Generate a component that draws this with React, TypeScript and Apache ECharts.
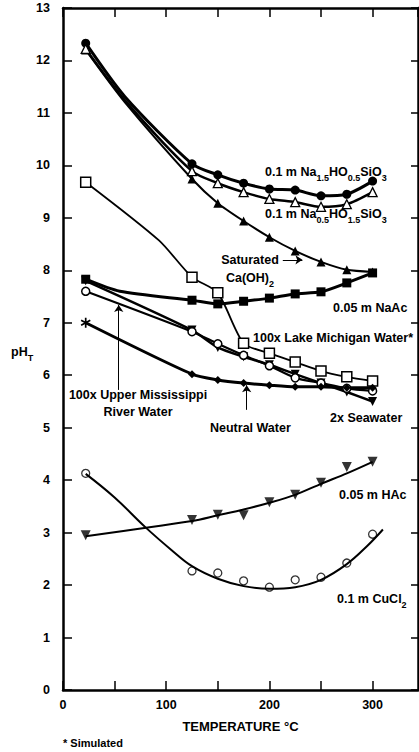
import React, { useEffect, useRef } from 'react';
import * as echarts from 'echarts';

// Temperatures (°C) at which the points were measured
const temps = [22, 125, 150, 175, 200, 225, 250, 275, 300];

// pH_T values per solution
const na15PH = [12.33, 10.03, 9.82, 9.66, 9.55, 9.53, 9.42, 9.45, 9.7];
const na05PH = [12.22, 9.89, 9.66, 9.49, 9.36, 9.3, 9.21, 9.26, 9.49];
const caohPH = [12.2, 9.74, 9.28, 8.94, 8.63, 8.37, 8.16, 8.01, 7.97];
const naacPH = [7.83, 7.43, 7.36, 7.41, 7.47, 7.55, 7.59, 7.76, 7.95];
const lakePH = [9.68, 7.87, 7.57, 6.61, 6.42, 6.25, 6.08, 5.97, 5.89];
const missPH = [7.6, 6.83, 6.6, 6.38, 6.18, 5.95, 5.85, 5.75, 5.7];
const seaPH = [7.8, 6.86, 6.53, 6.35, 6.2, 6.02, 5.85, 5.68, 5.5];
const neutralPH = [7.0, 6.02, 5.91, 5.85, 5.81, 5.78, 5.78, 5.76, 5.76];
const hacPH = [2.95, 3.24, 3.34, 3.33, 3.58, 3.72, 3.95, 4.25, 4.35];
const hacFitPH = [2.93, 3.22, 3.33, 3.44, 3.57, 3.72, 3.93, 4.13, 4.35];
const cuPH = [4.13, 2.27, 2.23, 2.08, 1.96, 2.1, 2.15, 2.42, 2.97];
const cuFitT = [22, 50, 80, 105, 125, 150, 175, 200, 225, 250, 275, 295, 310];
const cuFitPH = [4.12, 3.67, 3.1, 2.67, 2.36, 2.12, 1.98, 1.93, 1.96, 2.1, 2.4, 2.75, 3.06];

// Curve positions read between 22 °C and 125 °C (no marker drawn there): [T, pH]
const na15Bend = [60, 11.31];
const na05Bend = [60, 11.24];
const caohBend = [60, 11.2];
const naacBend = [55, 7.6];
const lakeBend = [93, 8.57];

// Annotation arrows [fromT, fromPH, toT, toPH]
const missArrow = [54, 5.72, 54, 7.34];
const neutralArrow = [178, 5.34, 178, 5.81];
const caohArrow = [213, 8.2, 232, 8.2];

// Axis ticks
const xTickLabels = [0, 100, 200, 300];

const FONT = '"Liberation Sans", Arial, Helvetica, sans-serif';
const FS = 12.5;
const STAR =
  'path://M4.2,0H5.8V10H4.2Z M0.27,3.19L1.07,1.81L9.73,6.81L8.93,8.19Z M1.07,8.19L0.27,6.81L8.93,1.81L9.73,3.19Z';

const pts = (xs: number[], ys: number[]) => xs.map((x, i) => [x, ys[i]]);
const withBend = (ys: number[], bend: number[]) => {
  const d: any[] = pts(temps, ys);
  d.splice(1, 0, { value: bend, symbol: 'none' });
  return d;
};

const arrowML = (a: number[]) => ({
  silent: true,
  symbol: ['none', 'arrow'],
  symbolSize: 7,
  label: { show: false },
  lineStyle: { color: '#000', width: 1, type: 'solid' },
  emphasis: { disabled: true },
  data: [[{ coord: [a[0], a[1]] }, { coord: [a[2], a[3]] }]],
});

const txt = (x: number, y: number, text: string, align = 'left', size = FS) => ({
  type: 'text',
  x,
  y,
  style: {
    text,
    fill: '#000',
    fontSize: size,
    fontWeight: 'bold',
    fontFamily: FONT,
    align,
    verticalAlign: 'middle',
  },
});

const richTxt = (x: number, y: number, text: string, align = 'left') => ({
  type: 'text',
  x,
  y,
  style: {
    text,
    fill: '#000',
    align,
    verticalAlign: 'middle',
    rich: {
      n: { fontSize: FS, fontWeight: 'bold', fontFamily: FONT, fill: '#000', lineHeight: 20 },
      s: { fontSize: 9, fontWeight: 'bold', fontFamily: FONT, fill: '#000', verticalAlign: 'bottom' },
    },
  },
});

export default function App() {
  const ref = useRef<HTMLDivElement>(null);
  useEffect(() => {
    if (!ref.current) return;
    const chart = echarts.init(ref.current, undefined, { renderer: 'svg' });
    const black = '#000';
    const axisLine = { show: true, onZero: false, lineStyle: { color: black, width: 2.5 } };
    const tick = { show: true, inside: true, length: 9, lineStyle: { color: black, width: 1.5 } };
    const lbl = { color: black, fontSize: FS, fontWeight: 'bold', fontFamily: FONT };
    const line = (name: string, data: any[], opts: any) => ({
      name,
      type: 'line',
      data,
      smooth: 0.25,
      symbolSize: 9,
      lineStyle: { color: black, width: opts.width ?? 2.5 },
      itemStyle: { color: opts.fill ?? black, borderColor: black, borderWidth: opts.border ?? 0 },
      emphasis: { disabled: true },
      ...opts.extra,
    });

    chart.setOption({
      animation: false,
      backgroundColor: '#fff',
      grid: { left: 63, right: 1, top: 8, bottom: 62 },
      xAxis: [
        {
          type: 'value',
          min: 0,
          max: 344,
          interval: 50,
          position: 'bottom',
          axisLine,
          axisTick: tick,
          splitLine: { show: false },
          axisLabel: {
            ...lbl,
            margin: 8,
            showMaxLabel: false,
            formatter: (v: number) => (xTickLabels.includes(v) ? String(v) : ''),
          },
          name: 'TEMPERATURE °C',
          nameLocation: 'middle',
          nameGap: 30,
          nameTextStyle: { ...lbl, fontSize: 13 },
        },
        {
          type: 'value',
          min: 0,
          max: 344,
          interval: 50,
          position: 'top',
          axisLine,
          axisTick: tick,
          axisLabel: { show: false },
          splitLine: { show: false },
        },
      ],
      yAxis: [
        {
          type: 'value',
          min: 0,
          max: 13,
          interval: 1,
          position: 'left',
          axisLine,
          axisTick: tick,
          splitLine: { show: false },
          axisLabel: { ...lbl, margin: 13 },
        },
        {
          type: 'value',
          min: 0,
          max: 13,
          interval: 1,
          position: 'right',
          axisLine,
          axisTick: { ...tick, length: 7 },
          splitLine: { show: false },
          axisLabel: { show: false },
        },
      ],
      series: [
        line('0.1 m Na1.5HO0.5SiO3', withBend(na15PH, na15Bend), { width: 3, extra: { symbol: 'circle' } }),
        line('Saturated Ca(OH)2', withBend(caohPH, caohBend), {
          width: 2,
          extra: { symbol: 'triangle', markLine: arrowML(caohArrow) },
        }),
        line('0.1 m Na0.5HO1.5SiO3', withBend(na05PH, na05Bend), {
          width: 2.5,
          fill: '#fff',
          border: 1.3,
          extra: { symbol: 'triangle', symbolSize: 9 },
        }),
        line('0.05 m NaAc', withBend(naacPH, naacBend), { width: 3, extra: { symbol: 'rect' } }),
        line('100x Lake Michigan Water', withBend(lakePH, lakeBend), {
          width: 1.8,
          fill: '#fff',
          border: 1.5,
          extra: { symbol: 'rect', symbolSize: 10 },
        }),
        line('2x Seawater', pts(temps, seaPH), {
          width: 2.5,
          extra: { symbol: 'triangle', symbolRotate: 180 },
        }),
        line('100x Upper Mississippi River Water', pts(temps, missPH), {
          width: 2.2,
          fill: '#fff',
          border: 1.5,
          extra: { symbol: 'circle', symbolSize: 8, markLine: arrowML(missArrow) },
        }),
        line(
          'Neutral Water',
          temps.map((t, i) => ({
            value: [t, neutralPH[i]],
            symbol: i === 0 ? STAR : 'diamond',
            symbolSize: i === 0 ? 10 : 8,
          })),
          { width: 3, extra: { markLine: arrowML(neutralArrow) } }
        ),
        line('0.05 m HAc fit', pts(temps, hacFitPH), { width: 2, extra: { symbol: 'none', smooth: 0.3 } }),
        {
          name: '0.05 m HAc',
          type: 'scatter',
          data: pts(temps, hacPH),
          symbol: 'triangle',
          symbolRotate: 180,
          symbolSize: 10,
          itemStyle: { color: black },
          emphasis: { disabled: true },
        },
        line('0.1 m CuCl2 fit', pts(cuFitT, cuFitPH), { width: 2, extra: { symbol: 'none', smooth: 0.4 } }),
        {
          name: '0.1 m CuCl2',
          type: 'scatter',
          data: pts(temps, cuPH),
          symbol: 'circle',
          symbolSize: 8,
          itemStyle: { color: '#fff', borderColor: black, borderWidth: 1.3 },
          emphasis: { disabled: true },
        },
      ],
      graphic: [
        richTxt(265, 172, '{n|0.1 m Na}{s|1.5}{n|HO}{s|0.5}{n|SiO}{s|3}'),
        richTxt(265, 214, '{n|0.1 m Na}{s|0.5}{n|HO}{s|1.5}{n|SiO}{s|3}'),
        txt(250, 260, 'Saturated', 'center'),
        richTxt(250, 278, '{n|Ca(OH)}{s|2}', 'center'),
        txt(333, 308, '0.05 m NaAc'),
        txt(253, 338, '100x Lake Michigan Water*'),
        txt(138, 395, '100x Upper Mississippi', 'center'),
        txt(138, 412, 'River Water', 'center'),
        txt(210, 428, 'Neutral Water'),
        txt(330, 418, '2x Seawater'),
        txt(339, 495, '0.05 m HAc'),
        richTxt(337, 599, '{n|0.1 m CuCl}{s|2}'),
        richTxt(11, 352, '{n|pH}{s|T}'),
        txt(63, 743, '* Simulated', 'left', 11),
      ],
    });
    return () => chart.dispose();
  }, []);
  return (
    <div
      ref={ref}
      style={{ position: 'absolute', left: 0, top: 0, width: 419, height: 752, background: '#fff' }}
    />
  );
}
